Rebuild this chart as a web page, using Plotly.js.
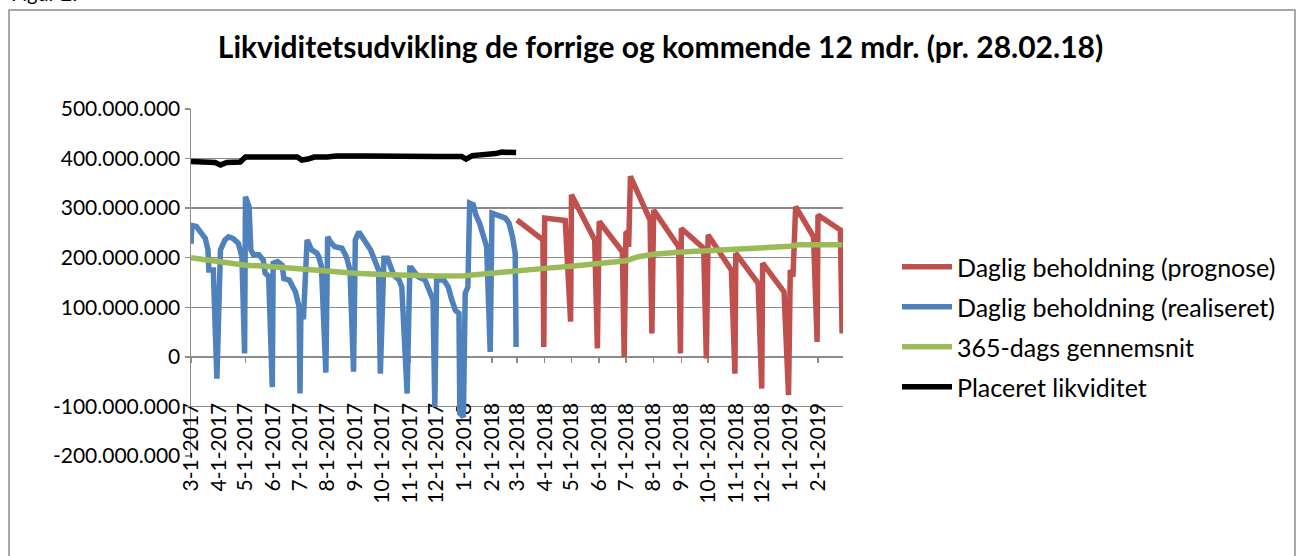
<!DOCTYPE html>
<html>
<head>
<meta charset="utf-8">
<script src="https://cdn.plot.ly/plotly-3.0.1.min.js"></script>
<style>html,body{margin:0;padding:0;background:#fff;}#chart{width:1301px;height:556px;}</style>
</head>
<body>
<div id="chart"></div>
<script>
// Values in millions of kroner
const prognoseDates = ['2018-03-01','2018-03-30','2018-03-31','2018-04-01','2018-04-24','2018-04-30','2018-05-01','2018-05-27','2018-05-30','2018-06-01','2018-06-27','2018-06-29','2018-07-01','2018-07-03','2018-07-04','2018-07-06','2018-07-28','2018-07-30','2018-08-01','2018-08-29','2018-08-31','2018-09-01','2018-09-26','2018-09-29','2018-10-01','2018-10-27','2018-10-31','2018-11-01','2018-11-26','2018-11-30','2018-12-01','2018-12-25','2018-12-30','2019-01-01','2019-01-04','2019-01-07','2019-01-27','2019-01-31','2019-02-01','2019-02-26','2019-02-28'];
const prognoseValues = [276,236,20,280,275,71,327,236,17,273,212,0,249,252,222,364,276,47,296,222,7,259,219,-3,246,175,-34,209,148,-64,189,131,-77,175,162,303,242,30,286,256,47];

const realiseretDates = ['2017-03-01','2017-03-02','2017-03-07','2017-03-13','2017-03-17','2017-03-20','2017-03-21','2017-03-26','2017-03-30','2017-04-03','2017-04-05','2017-04-08','2017-04-12','2017-04-17','2017-04-23','2017-04-27','2017-04-30','2017-05-01','2017-05-05','2017-05-07','2017-05-10','2017-05-16','2017-05-21','2017-05-23','2017-05-27','2017-05-31','2017-06-01','2017-06-06','2017-06-11','2017-06-13','2017-06-19','2017-06-23','2017-06-26','2017-06-30','2017-07-01','2017-07-02','2017-07-05','2017-07-09','2017-07-14','2017-07-20','2017-07-22','2017-07-25','2017-07-30','2017-08-01','2017-08-04','2017-08-09','2017-08-17','2017-08-22','2017-08-26','2017-08-30','2017-09-01','2017-09-05','2017-09-09','2017-09-14','2017-09-18','2017-09-24','2017-09-27','2017-09-29','2017-10-03','2017-10-07','2017-10-10','2017-10-14','2017-10-20','2017-10-23','2017-10-29','2017-11-01','2017-11-03','2017-11-10','2017-11-18','2017-11-21','2017-11-27','2017-11-29','2017-12-01','2017-12-09','2017-12-14','2017-12-18','2017-12-22','2017-12-26','2017-12-27','2017-12-31','2018-01-02','2018-01-05','2018-01-07','2018-01-11','2018-01-14','2018-01-18','2018-01-22','2018-01-26','2018-01-30','2018-02-01','2018-02-07','2018-02-13','2018-02-16','2018-02-20','2018-02-24','2018-02-27','2018-02-28'];
const realiseretValues = [228,265,263,249,239,216,175,175,-44,216,222,236,242,239,229,202,7,323,303,216,206,206,195,169,162,-61,189,192,185,158,155,141,131,101,-74,81,81,236,216,209,202,182,-32,242,232,222,219,202,175,-30,236,252,242,229,216,189,175,-34,199,199,185,165,155,141,-74,179,179,162,155,141,115,-101,155,155,141,115,94,88,-114,-121,128,141,310,307,286,270,242,222,10,290,286,280,280,270,242,209,20];

const gennemsnitDates = ['2017-03-01','2017-04-01','2017-04-10','2017-05-01','2017-06-01','2017-07-01','2017-08-01','2017-09-01','2017-10-01','2017-11-01','2017-12-01','2018-01-01','2018-02-01','2018-03-01','2018-04-01','2018-05-01','2018-06-01','2018-07-01','2018-07-15','2018-08-01','2018-09-01','2018-10-01','2018-11-01','2018-12-01','2019-01-01','2019-01-10','2019-02-01','2019-02-28'];
const gennemsnitValues = [200,192,188,185,182,177,172,168.5,166,164,163,163.5,169,175,178.5,183,188,194,202,207,211.5,214,217,220,223,226,226,226];

const placeretDates = ['2017-03-01','2017-03-15','2017-03-28','2017-04-03','2017-04-10','2017-04-25','2017-05-01','2017-06-28','2017-07-03','2017-07-10','2017-07-17','2017-08-01','2017-08-10','2017-09-15','2017-10-15','2017-10-20','2017-11-20','2017-12-01','2017-12-29','2018-01-03','2018-01-10','2018-01-25','2018-02-05','2018-02-12','2018-02-28'];
const placeretValues = [394,393,392,387,392,393,403,403,397,399,403,403,405,405,404,403,403,404,404,399,406,407,410,413,412];

const seriesNames = ['Daglig beholdning (prognose)','Daglig beholdning (realiseret)','365-dags gennemsnit','Placeret likviditet'];

const xTickVals = ['2017-03-01','2017-04-01','2017-05-01','2017-06-01','2017-07-01','2017-08-01','2017-09-01','2017-10-01','2017-11-01','2017-12-01','2018-01-01','2018-02-01','2018-03-01','2018-04-01','2018-05-01','2018-06-01','2018-07-01','2018-08-01','2018-09-01','2018-10-01','2018-11-01','2018-12-01','2019-01-01','2019-02-01'];
const xTickText = ['3-1-2017','4-1-2017','5-1-2017','6-1-2017','7-1-2017','8-1-2017','9-1-2017','10-1-2017','11-1-2017','12-1-2017','1-1-2018','2-1-2018','3-1-2018','4-1-2018','5-1-2018','6-1-2018','7-1-2018','8-1-2018','9-1-2018','10-1-2018','11-1-2018','12-1-2018','1-1-2019','2-1-2019'];
const yTickVals = [-200,-100,0,100,200,300,400,500];
const yTickText = ['-200.000.000','-100.000.000','0','100.000.000','200.000.000','300.000.000','400.000.000','500.000.000'];

const FONT = 'Lato, "Open Sans", sans-serif';
const W = 1301, H = 556, L = 191, R = 458, T = 109, B = 100;
const pw = W - L - R, ph = H - T - B;
const px2x = p => (p - L) / pw;
const py2y = p => (H - B - p) / ph;

const colors = ['#C0504D','#4F81BD','#9BBB59','#000000'];
const data = [
  {x: prognoseDates, y: prognoseValues},
  {x: realiseretDates, y: realiseretValues},
  {x: gennemsnitDates, y: gennemsnitValues},
  {x: placeretDates, y: placeretValues}
].map((d, i) => ({
  type: 'scatter', mode: 'lines', x: d.x, y: d.y, name: seriesNames[i],
  legendgroup: 'g' + i, cliponaxis: false,
  line: {color: colors[i], width: 5.5}
}));

const layout = {
  width: W, height: H,
  margin: {l: L, r: R, t: T, b: B, pad: 0},
  paper_bgcolor: '#ffffff', plot_bgcolor: '#ffffff',
  font: {family: FONT, color: '#000000', size: 21},
  title: {text: '<b>Likviditetsudvikling de forrige og kommende 12 mdr. (pr. 28.02.18)</b>',
    font: {family: FONT, size: 30, color: '#000000'},
    xref: 'container', yref: 'container', x: 660.5 / W, y: 1 - 47 / H, xanchor: 'center', yanchor: 'middle'},
  xaxis: {
    type: 'date', range: ['2017-03-01', '2019-03-01'],
    tickvals: xTickVals, ticktext: xTickText, tickangle: -90,
    anchor: 'free', position: 2 / 7, layer: 'below traces',
    showline: true, linecolor: '#8c8c8c', linewidth: 1.5,
    ticks: 'outside', ticklen: 5, tickcolor: '#8c8c8c', tickwidth: 1.5,
    ticklabelstandoff: 31,
    showgrid: false, zeroline: false,
    tickfont: {family: FONT, size: 21, color: '#000000'}
  },
  yaxis: {
    range: [-200, 500], tickvals: yTickVals, ticktext: yTickText,
    layer: 'below traces',
    showgrid: true, gridcolor: '#8c8c8c', gridwidth: 1.5,
    showline: true, linecolor: '#8c8c8c', linewidth: 1.5,
    ticks: 'outside', ticklen: 5, tickcolor: '#8c8c8c', tickwidth: 1.5,
    zeroline: false,
    tickfont: {family: FONT, size: 21, color: '#000000'}
  },
  showlegend: true,
  legend: {
    x: px2x(897), y: py2y(244), xanchor: 'left', yanchor: 'top',
    traceorder: 'grouped', tracegroupgap: 4.5, itemwidth: 50,
    font: {family: FONT, size: 25, color: '#000000'},
    bgcolor: 'rgba(0,0,0,0)', borderwidth: 0
  },
  shapes: [{
    type: 'rect', xref: 'paper', yref: 'paper',
    x0: px2x(9), x1: px2x(1295), y0: py2y(600), y1: py2y(10),
    line: {color: '#8c8c8c', width: 1.5}, fillcolor: 'rgba(0,0,0,0)', layer: 'below'
  }],
  annotations: [{
    text: 'Figur 2:', xref: 'paper', yref: 'paper', x: px2x(9), y: py2y(-7),
    xanchor: 'left', yanchor: 'middle', showarrow: false,
    font: {family: FONT, size: 20, color: '#000000'}
  }]
};

Plotly.newPlot('chart', data, layout, {displayModeBar: false, staticPlot: true});
</script>
</body>
</html>
